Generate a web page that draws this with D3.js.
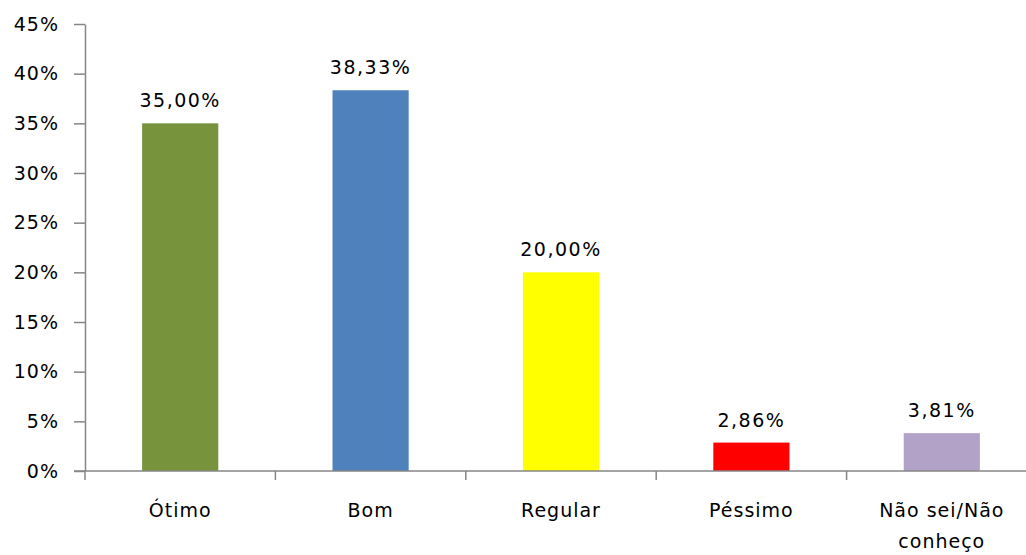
<!DOCTYPE html>
<html>
<head>
<meta charset="utf-8">
<script src="https://cdn.jsdelivr.net/npm/d3@7"></script>
<style>
  body { margin: 0; background: #fff; }
  text { font-family: "DejaVu Sans", sans-serif; fill: #000; }
</style>
</head>
<body>
<div id="canvas"></div>
<script>
const categories = ["Ótimo", "Bom", "Regular", "Péssimo", "Não sei/Não conheço"];
const values = [35.00, 38.33, 20.00, 2.86, 3.81];
const colors = ["#77933C", "#4F81BD", "#FFFF00", "#FF0000", "#B3A2C7"];
const yTicks = [0, 5, 10, 15, 20, 25, 30, 35, 40, 45];

const width = 1026;
const height = 555;
const margin = { top: 24, bottom: 84, left: 85, right: -11 };
const iwidth = width - margin.left - margin.right;
const iheight = height - margin.top - margin.bottom;

const svg = d3.select("#canvas").append("svg")
  .attr("width", width)
  .attr("height", height);

const g = svg.append("g")
  .attr("transform", `translate(${margin.left}, ${margin.top})`);

const y = d3.scaleLinear().domain([0, 45]).range([iheight, 0]);

const x = d3.scaleBand()
  .domain(categories)
  .range([0, iwidth])
  .paddingInner(0.6)
  .paddingOuter(0.3);

// y axis
const yAxis = g.append("g")
  .call(d3.axisLeft(y).tickValues(yTicks).tickFormat(d => d + "%").tickSize(11).tickSizeOuter(0).tickPadding(15));
yAxis.selectAll("line, path").attr("stroke", "#868686").attr("stroke-width", 1.5);
yAxis.selectAll("text").style("font-size", "19px").style("letter-spacing", "1px");

// bars
g.selectAll("rect.bar").data(values).enter()
  .append("rect")
  .attr("class", "bar")
  .attr("x", (d, i) => x(categories[i]))
  .attr("y", d => y(d))
  .attr("width", x.bandwidth())
  .attr("height", d => iheight - y(d))
  .style("fill", (d, i) => colors[i]);

// value labels
g.selectAll("text.val").data(values).enter()
  .append("text")
  .attr("class", "val")
  .attr("x", (d, i) => x(categories[i]) + x.bandwidth() / 2)
  .attr("y", d => y(d) - 16)
  .attr("text-anchor", "middle")
  .style("font-size", "19px")
  .style("letter-spacing", "1.5px")
  .text(d => d.toFixed(2).replace(".", ",") + "%");

// x axis line and ticks at category boundaries
const step = x.step();
const x0 = x(categories[0]) - x.paddingOuter() * step - (x.paddingInner() * step) / 2 + (x.paddingInner() * step) / 2;
const xAxis = g.append("g").attr("transform", `translate(0, ${iheight})`);
xAxis.append("line")
  .attr("x1", -11).attr("x2", iwidth)
  .attr("stroke", "#868686").attr("stroke-width", 1.5);
xAxis.selectAll("line.tick").data(d3.range(categories.length + 1)).enter()
  .append("line")
  .attr("class", "tick")
  .attr("x1", i => i * iwidth / categories.length)
  .attr("x2", i => i * iwidth / categories.length)
  .attr("y1", 0).attr("y2", 9)
  .attr("stroke", "#868686").attr("stroke-width", 1.5);

// category labels (wrap the long one)
const labelLines = [["Ótimo"], ["Bom"], ["Regular"], ["Péssimo"], ["Não sei/Não", "conheço"]];
categories.forEach((c, i) => {
  const t = xAxis.append("text")
    .attr("x", x(c) + x.bandwidth() / 2)
    .attr("y", 46)
    .attr("text-anchor", "middle")
    .style("font-size", "19px")
    .style("letter-spacing", "1px");
  labelLines[i].forEach((ln, k) => {
    t.append("tspan")
      .attr("x", x(c) + x.bandwidth() / 2)
      .attr("dy", k === 0 ? 0 : 31)
      .text(ln);
  });
});
</script>
</body>
</html>
